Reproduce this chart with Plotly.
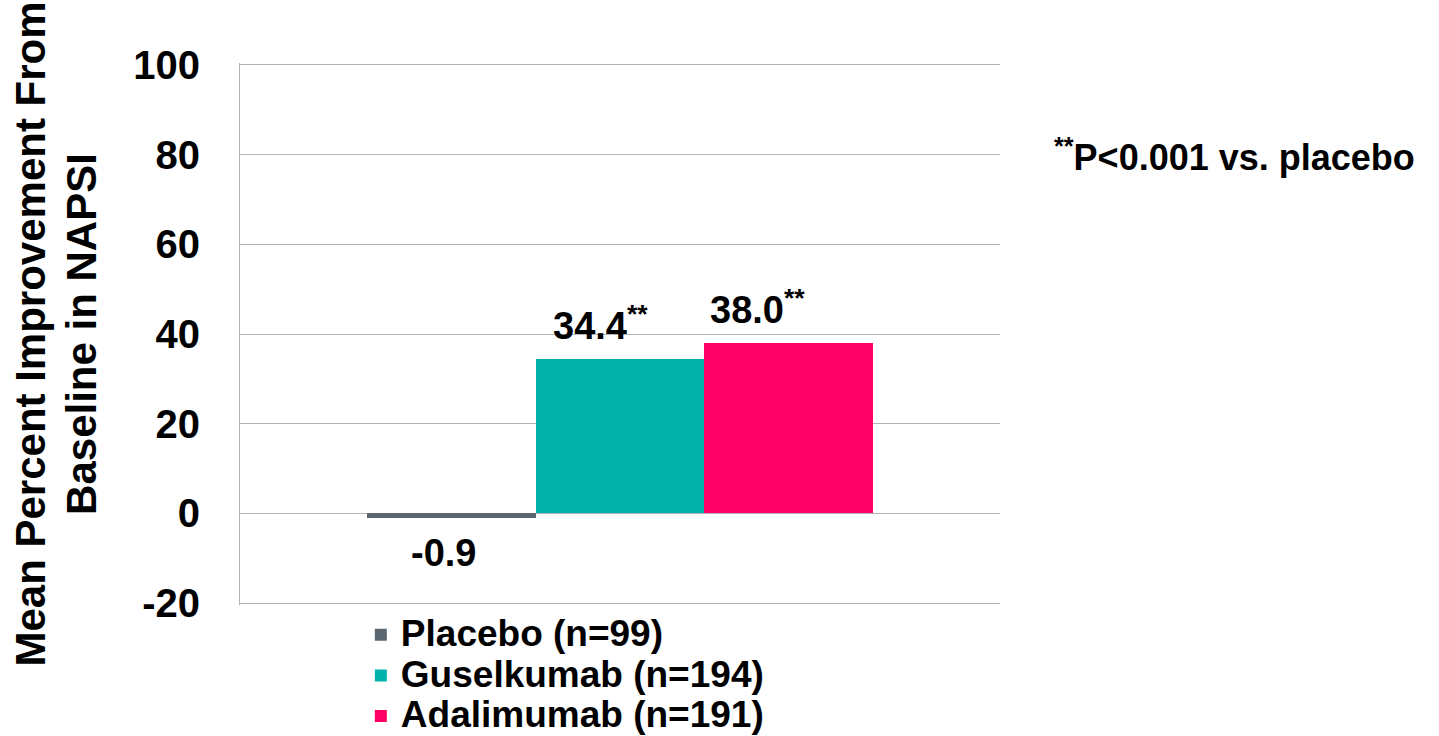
import plotly.graph_objects as go

# NAPSI improvement by treatment arm
groups = ["Placebo (n=99)", "Guselkumab (n=194)", "Adalimumab (n=191)"]
values = [-0.9, 34.4, 38.0]
significance = ["", "**", "**"]
colors = ["#5b6770", "#00b2a9", "#ff0066"]
y_ticks = [-20, 0, 20, 40, 60, 80, 100]
y_title_lines = ["Mean Percent Improvement From", "Baseline in NAPSI"]

FONT = "Liberation Sans, Arial, sans-serif"
GRID = "#b1b4b7"


def sized(text, px):
    return f'<span style="font-size:{px}px">{text}</span>'


fig = go.Figure()
for name, val, col in zip(groups, values, colors):
    fig.add_trace(go.Bar(
        x=[name], y=[val],
        # legend rows are spaced by the base legend font; text drawn larger
        name=sized(name, 37),
        marker=dict(color=col, line=dict(width=0)),
        width=1,
    ))

# value labels above/below each bar
label_xshift = [-8, -20, -31]
for name, val, sig, dx in zip(groups, values, significance, label_xshift):
    txt = f"{val:.1f}" + (f"<sup>{sig}</sup>" if sig else "")
    fig.add_annotation(
        x=name, y=val, xref="x", yref="y",
        text=txt, showarrow=False,
        yanchor="bottom" if val >= 0 else "top",
        yshift=10 if val >= 0 else -12,
        xshift=dx,
        font=dict(family=FONT, size=38, color="black", weight="bold"),
    )

fig.add_annotation(
    x=1.068, y=0.83, xref="paper", yref="paper",
    xanchor="left", yanchor="middle", showarrow=False,
    text="<sup>**</sup>P<0.001 vs. placebo",
    font=dict(family=FONT, size=36, color="black", weight="bold"),
)

fig.update_layout(
    width=1439, height=736,
    margin=dict(l=240, r=439, t=63, b=131, autoexpand=False),
    paper_bgcolor="white", plot_bgcolor="white",
    barmode="overlay", bargap=0,
    showlegend=True,
    legend=dict(
        x=0.159, y=-0.008, xanchor="left", yanchor="top",
        orientation="v", traceorder="normal",
        font=dict(family=FONT, size=29, color="black", weight="bold"),
        bgcolor="rgba(0,0,0,0)",
    ),
    xaxis=dict(
        range=[-1.25, 3.25], showticklabels=False, showgrid=False,
        zeroline=False, showline=False, ticks="",
    ),
    yaxis=dict(
        range=[-20.4, 100.4], tickvals=y_ticks, ticktext=[str(t) for t in y_ticks],
        showgrid=True, gridcolor=GRID, gridwidth=1,
        zeroline=True, zerolinecolor=GRID, zerolinewidth=1,
        showline=True, linecolor=GRID, linewidth=1,
        ticks="outside", ticklen=31, tickcolor="rgba(0,0,0,0)",
        tickfont=dict(family=FONT, size=40, color="black", weight="bold"),
        title=dict(
            text="<br>".join(sized(t, 42) for t in y_title_lines),
            font=dict(family=FONT, size=39, color="black", weight="bold"),
            standoff=24,
        ),
        automargin=False,
    ),
)

fig.write_html("out.html")
